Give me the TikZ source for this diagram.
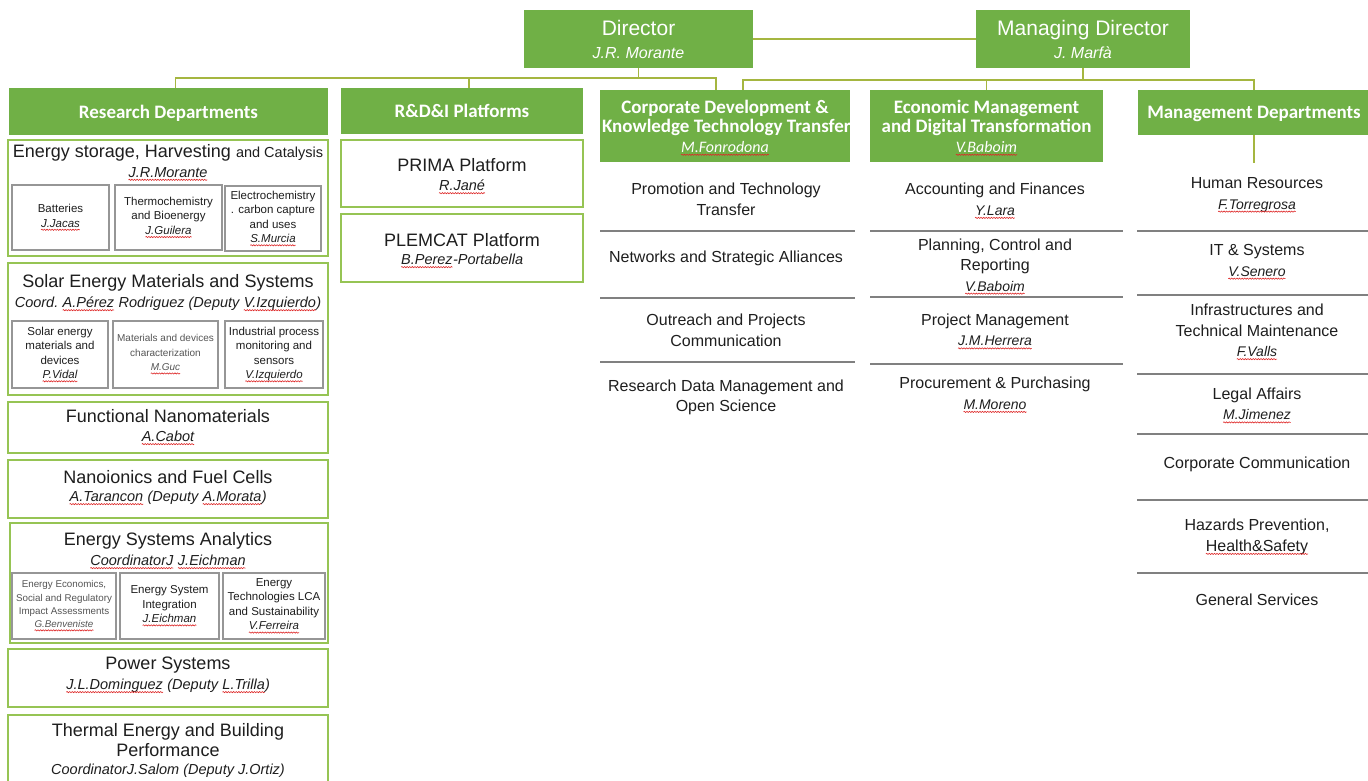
\documentclass[tikz,border=0pt]{standalone}
\usepackage{fontspec}
\setmainfont{Liberation Sans}
\newfontfamily\calib{Carlito}
\usetikzlibrary{decorations.pathmorphing}

\definecolor{hdgreen}{RGB}{112,176,70}
\definecolor{bordgreen}{RGB}{150,196,84}
\definecolor{linkgreen}{RGB}{165,182,64}
\definecolor{subgray}{RGB}{150,150,150}
\definecolor{sepgray}{RGB}{128,128,128}
\definecolor{ink}{RGB}{30,30,30}
\definecolor{softink}{RGB}{85,85,85}
\definecolor{wavered}{RGB}{222,40,40}

% red wavy underline
\newcommand\sq[1]{\tikz[baseline=(w.base)]{\node[shape=rectangle,inner sep=0pt,outer sep=0pt,minimum width=0pt,minimum height=0pt,draw=none,fill=none,font=,text depth=] (w) {#1};
\draw[wavered,line width=0.6pt,decorate,decoration={snake,amplitude=0.6pt,segment length=2.6pt}] ([yshift=-2.6pt]w.base west) -- ([yshift=-2.6pt]w.base east);}}
\newcommand\deptfont{\fontsize{18}{20}\selectfont}
\newcommand\leadfont{\fontsize{14.5}{16}\selectfont\itshape}
\newcommand\staff[1]{{\fontsize{14}{20.5}\selectfont\itshape\sq{#1}}}

\begin{document}
\begin{tikzpicture}
[x=1pt,y=-1pt,%%%%%%%%%%%%%%%%%%%%%%%%%%%%%%
boss/.style={rectangle,fill=hdgreen,text=white,inner sep=0pt,outer sep=0pt,align=center,font=\fontsize{21}{23}\selectfont},
hdr/.style={rectangle,fill=hdgreen,text=white,inner sep=0pt,outer sep=0pt,align=center,text depth=0pt,font=\calib\bfseries\fontsize{19}{19.5}\selectfont},
dept/.style={rectangle,draw=bordgreen,line width=1.6pt,fill=white,inner sep=0pt,outer sep=0pt},
subbox/.style={rectangle,draw=subgray,line width=1.3pt,inner sep=0pt,outer sep=0pt,align=center,text=ink,font=\fontsize{11.5}{14.5}\selectfont},
deptitle/.style={text=ink,inner sep=0pt,align=center,font=\deptfont},
lead/.style={text=ink,inner sep=0pt,align=center,font=\leadfont},
unit/.style={text=ink,inner sep=0pt,align=center,font=\fontsize{16}{20.5}\selectfont},
divider/.style={draw=sepgray,line width=2.2pt},
link/.style={draw=linkgreen,line width=1.1pt},
]%%%%%%%%%%%%%%%%%%%%%%%%%%%%%%
\useasboundingbox (0,0) rectangle (1368,780);

% directors
\node[boss,minimum width=229pt,minimum height=58pt] (dir) at (638.5,39) {Director\\{\fontsize{16}{23}\selectfont\itshape J.R. Morante}};
\node[boss,minimum width=214pt,minimum height=58pt] (mdir) at (1083,39) {Managing Director\\{\fontsize{16}{23}\selectfont\itshape J. Marfà}};

% green headers
\node[hdr,minimum width=319pt,minimum height=47pt] (resdep) at (168.5,111.5) {Research Departments};
\node[hdr,minimum width=242pt,minimum height=46pt] (plat) at (462,111) {R\&D\&I Platforms};
\node[hdr,minimum width=250pt,minimum height=72pt] (corp) at (725,126) {Corporate Development \&\\\makebox[246pt][l]{Knowledge Technology Transfer}\\{\fontsize{16}{17}\selectfont\mdseries\itshape\sq{M.Fonrodona}}};
\node[hdr,minimum width=233pt,minimum height=72pt] (econ) at (986.5,126) {Economic Management\\and Digital Transformation\\{\fontsize{16}{17}\selectfont\mdseries\itshape\sq{V.Baboim}}};
\node[hdr,minimum width=232pt,minimum height=45pt] (mgmt) at (1254,112.5) {Management Departments};

% connectors
\coordinate (dbus) at (640,78);
\coordinate (mbus) at (1090,80);
\coordinate (mtail) at (1254,163);
\draw[link] (dir.east) -- (mdir.west);
\draw[link] (dir.south) -- (dir.south |- dbus);
\draw[link] ([xshift=7pt]resdep.north) |- ([xshift=-9pt]corp.north |- dbus) -- ([xshift=-9pt]corp.north);
\draw[link] ([xshift=7pt]plat.north) -- ([xshift=7pt]plat.north |- dbus);
\draw[link] (mdir.south) -- (mdir.south |- mbus);
\draw[link] ([xshift=18pt]corp.north) |- (mgmt.north |- mbus) -- (mgmt.north);
\draw[link] (econ.north) -- (econ.north |- mbus);
\draw[link] (mgmt.south) -- (mtail);

% research departments
\node[dept,minimum width=320pt,minimum height=116pt] (stor) at (168,198) {};
\node[deptitle] (stor-t) at (168,153) {Energy storage, Harvesting {\fontsize{14.5}{16}\selectfont and Catalysis}};
\node[lead] (stor-l) at (168,174) {\sq{J.R.Morante}};
\node[subbox,minimum width=97pt,minimum height=65pt] (stor-a) at (60.5,217.5) {Batteries\\\textit{\sq{J.Jacas}}};
\node[subbox,minimum width=107pt,minimum height=65pt] (stor-b) at (168.5,217.5) {Thermochemistry\\and Bioenergy\\\textit{\sq{J.Guilera}}};
\node[subbox,minimum width=96pt,minimum height=65pt] (stor-c) at (273,218.5) {Electrochemistry\\. carbon capture\\and uses\\\textit{\sq{S.Murcia}}};

\node[dept,minimum width=320pt,minimum height=132pt] (solar) at (168,329) {};
\node[deptitle] (solar-t) at (168,283) {Solar Energy Materials and Systems};
\node[lead] (solar-l) at (168,304) {Coord.\ \sq{A.Pérez} Rodriguez (Deputy \sq{V.Izquierdo})};
\node[subbox,minimum width=96pt,minimum height=67pt] (solar-a) at (60,354.5) {Solar energy\\materials and\\devices\\\textit{\sq{P.Vidal}}};
\node[subbox,minimum width=105pt,minimum height=67pt,text=softink,font=\fontsize{10}{14.5}\selectfont] (solar-b) at (165.5,354.5) {Materials and devices\\characterization\\\textit{\sq{M.Guc}}};
\node[subbox,minimum width=98pt,minimum height=67pt] (solar-c) at (274,354.5) {Industrial process\\monitoring and\\sensors\\\textit{\sq{V.Izquierdo}}};

\node[dept,minimum width=320pt,minimum height=51pt] (nano) at (168,427.5) {};
\node[deptitle] (nano-t) at (168,416) {Functional Nanomaterials};
\node[lead] (nano-l) at (168,438) {\sq{A.Cabot}};

\node[dept,minimum width=320pt,minimum height=58pt] (ionic) at (168,489) {};
\node[deptitle] (ionic-t) at (168,477) {Nanoionics and Fuel Cells};
\node[lead] (ionic-l) at (168,498) {\sq{A.Tarancon} (Deputy \sq{A.Morata})};

\node[dept,minimum width=318pt,minimum height=120pt] (esa) at (169,583) {};
\node[deptitle] (esa-t) at (168,541) {Energy Systems Analytics};
\node[lead] (esa-l) at (168,562) {\sq{CoordinatorJ} \sq{J.Eichman}};
\node[subbox,minimum width=104pt,minimum height=66pt,text=softink,font=\fontsize{9.8}{13.3}\selectfont] (esa-a) at (64,606) {Energy Economics,\\Social and Regulatory\\Impact Assessments\\\textit{\sq{G.Benveniste}}};
\node[subbox,minimum width=99pt,minimum height=66pt] (esa-b) at (169.5,606) {Energy System\\Integration\\\textit{\sq{J.Eichman}}};
\node[subbox,minimum width=102pt,minimum height=66pt] (esa-c) at (274,606) {Energy\\Technologies LCA\\and Sustainability\\\textit{\sq{V.Ferreira}}};

\node[dept,minimum width=320pt,minimum height=58pt] (power) at (168,678) {};
\node[deptitle] (power-t) at (168,665) {Power Systems};
\node[lead] (power-l) at (168,686) {\sq{J.L.Dominguez} (Deputy \sq{L.Trilla})};

\node[dept,minimum width=320pt,minimum height=85pt] (therm) at (168,757.5) {};
\node[deptitle] (therm-t) at (168,740) {Thermal Energy and Building\\Performance};
\node[lead] (therm-l) at (168,771) {CoordinatorJ.Salom (Deputy J.Ortiz)};

% platforms
\node[dept,minimum width=242pt,minimum height=67pt] (prima) at (462,173.5) {};
\node[deptitle] (prima-t) at (462,165) {PRIMA Platform};
\node[lead] (prima-l) at (462,187) {\sq{R.Jané}};
\node[dept,minimum width=242pt,minimum height=68pt] (plem) at (462,248) {};
\node[deptitle] (plem-t) at (462,240) {PLEMCAT Platform};
\node[lead] (plem-l) at (462,261) {\sq{B.Perez}-Portabella};

% corporate development
\node[unit] (prom) at (726,199.5) {Promotion and Technology\\Transfer};
\node[unit] (netw) at (726,258) {Networks and Strategic Alliances};
\node[unit] (outr) at (726,330.5) {Outreach and Projects\\Communication};
\node[unit] (rdm) at (726,397.5) {Research Data Management and\\Open Science};
\foreach \y in {231,298,362}
\draw[divider] (600,\y) -- (855,\y);

% economic management
\node[unit] (acct) at (995,201) {Accounting and Finances\\\staff{Y.Lara}};
\node[unit] (plan) at (995,266.5) {Planning, Control and\\Reporting\\\staff{V.Baboim}};
\node[unit] (proj) at (995,331.5) {Project Management\\\staff{J.M.Herrera}};
\node[unit] (proc) at (995,395) {Procurement \& Purchasing\\\staff{M.Moreno}};
\foreach \y in {231,297,364}
\draw[divider] (870,\y) -- (1123,\y);

% management departments
\node[unit] (hr) at (1257,195) {Human Resources\\\staff{F.Torregrosa}};
\node[unit] (its) at (1257,262) {IT \& Systems\\\staff{V.Senero}};
\node[unit] (infra) at (1257,332) {Infrastructures and\\Technical Maintenance\\\staff{F.Valls}};
\node[unit] (legal) at (1257,405.5) {Legal Affairs\\\staff{M.Jimenez}};
\node[unit] (ccom) at (1257,464) {Corporate Communication};
\node[unit] (haz) at (1257,537) {Hazards Prevention,\\\sq{Health\&Safety}};
\node[unit] (gen) at (1257,600) {General Services};
\foreach \y in {231,295,374,434,500,573}
\draw[divider] (1137,\y) -- (1368,\y);
\end{tikzpicture}
\end{document}
